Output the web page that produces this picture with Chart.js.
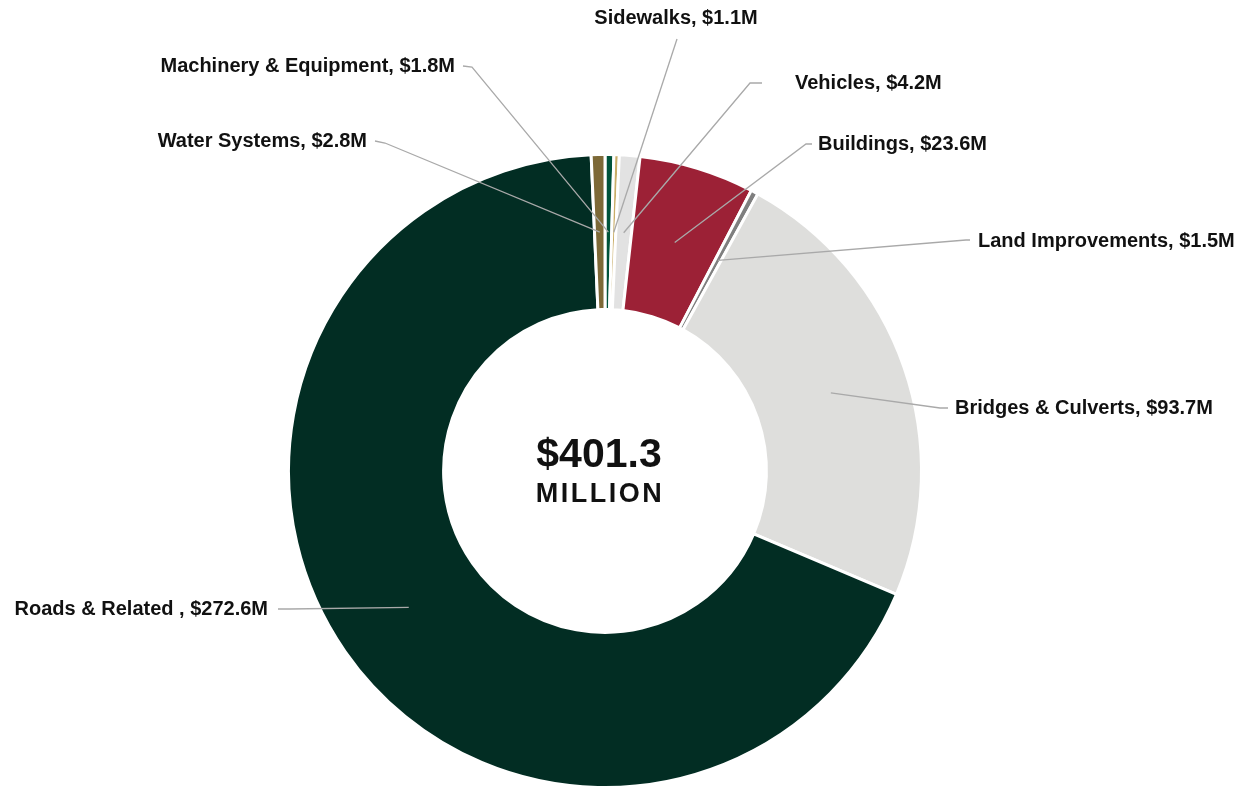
<!DOCTYPE html>
<html>
<head>
<meta charset="utf-8">
<script src="https://cdn.jsdelivr.net/npm/chart.js@4.4.1/dist/chart.umd.min.js"></script>
<style>
  html, body { margin: 0; padding: 0; background: #fff; }
  canvas { display: block; }
</style>
</head>
<body>
<canvas id="grafico" width="1240" height="789"></canvas>
<script>
// capital assets by class, in millions of dollars (clockwise from 12 o'clock)
const categorias = ['Machinery & Equipment', 'Sidewalks', 'Vehicles', 'Buildings',
  'Land Improvements', 'Bridges & Culverts', 'Roads & Related ', 'Water Systems'];
const valores = [1.8, 1.1, 4.2, 23.6, 1.5, 93.7, 272.6, 2.8];
const colores = ['#00533b', '#c9ad67', '#e2e2e2', '#9c2136',
  '#7f7f7f', '#dededc', '#022d23', '#7d6937'];

// where each callout bends and where its text sits
const llamadas = [
  { codo: [472, 67], fin: [463, 66], texto: [455, 66], alinear: 'right' },
  { codo: [677, 39], fin: [677, 39], texto: [676, 18], alinear: 'center' },
  { codo: [750, 83], fin: [762, 83], texto: [795, 83], alinear: 'left' },
  { codo: [806, 144], fin: [812, 144], texto: [818, 144], alinear: 'left' },
  { codo: [966, 240], fin: [970, 240], texto: [978, 241], alinear: 'left' },
  { codo: [940, 408], fin: [948, 408], texto: [955, 408], alinear: 'left' },
  { codo: [290, 609], fin: [278, 609], texto: [268, 609], alinear: 'right' },
  { codo: [385, 143], fin: [375, 141], texto: [367, 141], alinear: 'right' }
];

const fuente = '"Liberation Sans", Arial, sans-serif';

const etiquetas = {
  id: 'etiquetas',
  afterDatasetsDraw(chart) {
    const ctx = chart.ctx;
    const arcos = chart.getDatasetMeta(0).data;
    ctx.save();
    arcos.forEach((arco, i) => {
      const p = arco.getProps(['x', 'y', 'startAngle', 'endAngle', 'innerRadius', 'outerRadius'], true);
      const medio = (p.startAngle + p.endAngle) / 2;
      const r = (p.innerRadius + p.outerRadius) / 2;
      const x0 = p.x + Math.cos(medio) * r;
      const y0 = p.y + Math.sin(medio) * r;
      const ll = llamadas[i];

      ctx.strokeStyle = '#a9a9a9';
      ctx.lineWidth = 1.3;
      ctx.beginPath();
      ctx.moveTo(x0, y0);
      ctx.lineTo(ll.codo[0], ll.codo[1]);
      ctx.lineTo(ll.fin[0], ll.fin[1]);
      ctx.stroke();

      ctx.fillStyle = '#111';
      ctx.font = 'bold 20px ' + fuente;
      ctx.textAlign = ll.alinear;
      ctx.textBaseline = 'middle';
      ctx.fillText(categorias[i] + ', $' + valores[i].toFixed(1) + 'M', ll.texto[0], ll.texto[1]);
    });

    // total in the hole
    const total = valores.reduce((a, b) => a + b, 0);
    const cx = arcos[0].x - 6, cy = arcos[0].y;
    ctx.textAlign = 'center';
    ctx.textBaseline = 'alphabetic';
    ctx.font = 'bold 41px ' + fuente;
    ctx.fillText('$' + total.toFixed(1), cx, cy - 4);
    ctx.font = 'bold 27px ' + fuente;
    ctx.letterSpacing = '2.5px';
    ctx.fillText('MILLION', cx + 1, cy + 31);
    ctx.restore();
  }
};

new Chart(document.getElementById('grafico').getContext('2d'), {
  type: 'doughnut',
  data: {
    labels: categorias,
    datasets: [{
      data: valores,
      backgroundColor: colores,
      borderColor: '#ffffff',
      borderWidth: 3
    }]
  },
  options: {
    responsive: false,
    animation: false,
    cutout: '51%',
    layout: { padding: { top: 153, bottom: 0, left: 0, right: 30 } },
    plugins: {
      legend: { display: false },
      tooltip: { enabled: false }
    }
  },
  plugins: [etiquetas]
});
</script>
</body>
</html>
